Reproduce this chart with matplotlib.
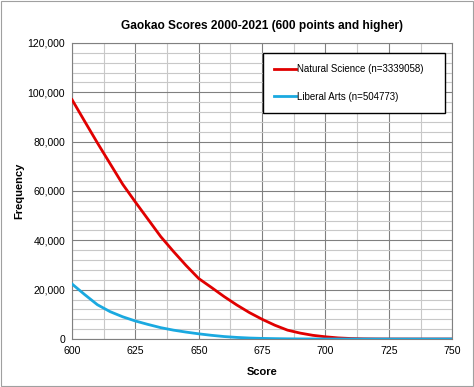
import matplotlib
matplotlib.use('Agg')
import matplotlib.pyplot as plt
from matplotlib.ticker import MultipleLocator, FuncFormatter

plt.rcParams['font.family'] = ['Liberation Sans', 'DejaVu Sans']

# scores every 5 points, 600-750
scores = list(range(600, 751, 5))
natural_science = [97000, 88200, 79500, 71100, 62700, 55500, 48500, 41500, 35500, 29800,
                   24500, 20900, 17200, 13800, 10700, 8000, 5600, 3600, 2400, 1500,
                   900, 450, 200, 80, 30, 10, 5, 0, 0, 0, 0]
liberal_arts = [22300, 18000, 13900, 11100, 9000, 7300, 5900, 4600, 3600, 2800,
                2100, 1500, 1000, 650, 400, 250, 150, 80, 40, 20,
                10, 5, 0, 0, 0, 0, 0, 0, 0, 0, 0]

fig = plt.figure(figsize=(4.74, 3.87), dpi=100)
ax = fig.add_axes([0.152, 0.124, 0.802, 0.765])

ax.plot(scores, natural_science, color='#e00000', lw=2.0, label='Natural Science (n=3339058)', zorder=3)
ax.plot(scores, liberal_arts, color='#1aa9e0', lw=2.0, label='Liberal Arts (n=504773)', zorder=4)

ax.set_xlim(600, 750)
ax.set_ylim(0, 120000)
ax.xaxis.set_major_locator(MultipleLocator(25))
ax.xaxis.set_minor_locator(MultipleLocator(12.5))
ax.yaxis.set_major_locator(MultipleLocator(20000))
ax.yaxis.set_minor_locator(MultipleLocator(4000))
ax.yaxis.set_major_formatter(FuncFormatter(lambda v, p: f'{int(v):,}'))

ax.grid(which='major', color='#808080', lw=0.8)
ax.grid(which='minor', color='#c8c8c8', lw=0.8)
ax.set_axisbelow(True)
ax.tick_params(which='both', length=0, labelsize=7.6, pad=5)
for s in ax.spines.values():
    s.set_color('#808080')
    s.set_linewidth(0.8)

ax.set_title('Gaokao Scores 2000-2021 (600 points and higher)', fontsize=8.6, fontweight='bold', pad=10)
ax.set_xlabel('Score', fontsize=8, fontweight='bold', labelpad=8)
ax.set_ylabel('Frequency', fontsize=8, fontweight='bold', labelpad=2)

leg = ax.legend(loc='upper left', bbox_to_anchor=(0.503, 0.767, 0.479, 0.199), mode='expand',
                fontsize=7.0, frameon=True, fancybox=False, edgecolor='black', framealpha=1,
                handlelength=2.2, handletextpad=0.1, labelspacing=1.8,
                borderpad=1.15, borderaxespad=0)
leg.get_frame().set_linewidth(1.0)

fig.patches.append(plt.Rectangle((0.002, 0.002), 0.996, 0.996, transform=fig.transFigure,
                                 fill=False, edgecolor='#a0a0a0', lw=0.8))

plt.savefig('out.png', dpi=100)
plt.close()
